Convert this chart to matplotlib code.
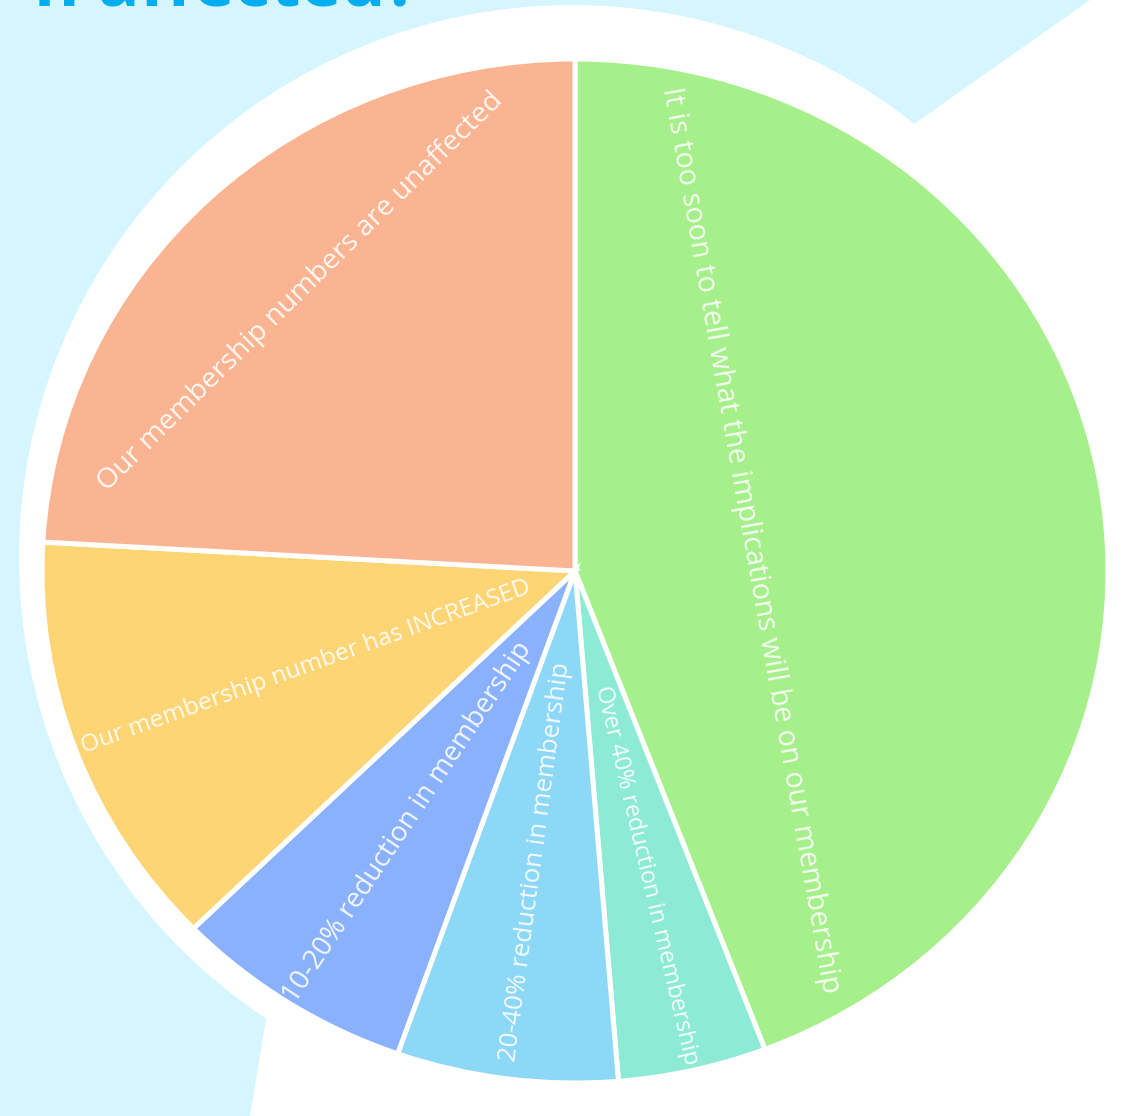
import numpy as np
import matplotlib.pyplot as plt
from matplotlib.patches import Circle, Polygon

# Survey answers, clockwise from the top of the pie
answers = [
    'It is too soon to tell what the implications will be on our membership',
    'Over 40% reduction in membership',
    '20-40% reduction in membership',
    '10-20% reduction in membership',
    'Our membership number has INCREASED',
    'Our membership numbers are unaffected',
]
shares = [44.2, 4.5, 6.7, 7.3, 13.2, 24.1]
colors = ['#a5f08a', '#8debd5', '#8dd7f7', '#8ab1fd', '#fdd575', '#fab491']

# label layout: orientation, distance from centre (fraction of radius), size
label_mode = ['tangent', 'radial', 'radial', 'radial', 'radial', 'tangent']
label_r = [0.334, 0.23, 0.18, 0.17, 0.09, 0.75]
label_size = [20.7, 16.9, 18.6, 19.8, 17.6, 20.5]

W, H = 1132, 1116
fig = plt.figure(figsize=(W / 100, H / 100), dpi=100, facecolor='#d5f6fe')

# background shapes in pixel units
bg = fig.add_axes([0, 0, 1, 1])
bg.set_xlim(0, W)
bg.set_ylim(H, 0)
bg.axis('off')
bg.add_patch(Polygon([(1090, 0), (W, 0), (W, H), (250, H), (265, 1025),
                      (335, 600), (700, 275)], closed=True,
                     facecolor='white', edgecolor='none'))
bg.add_patch(Circle((572, 558), 553, facecolor='white', edgecolor='none'))
bg.text(418, 6, 'n affected?', color='#00aeef', fontsize=50,
        fontweight='bold', family='Open Sans', ha='right', va='baseline')

# pie axes, stretched slightly wider than tall
cx, cy, rx, ry = 575, 571, 533, 512
ax = fig.add_axes([(cx - rx) / W, (H - cy - ry) / H, 2 * rx / W, 2 * ry / H])
wedges, _ = ax.pie(shares, colors=colors, startangle=90, counterclock=False,
                   radius=1,
                   wedgeprops=dict(edgecolor='white', linewidth=3.6))
ax.set_xlim(-1, 1)
ax.set_ylim(-1, 1)
ax.set_aspect('auto')
ax.axis('off')
for w in wedges:
    w.set_clip_on(False)

edges = np.concatenate([[0], np.cumsum(shares)]) / sum(shares) * 360
for i, text in enumerate(answers):
    mid = np.radians((edges[i] + edges[i + 1]) / 2)
    ux, uy = np.sin(mid), np.cos(mid)
    r = label_r[i]
    p0 = ax.transData.transform((r * ux, r * uy))
    p1 = ax.transData.transform(((r + 0.1) * ux, (r + 0.1) * uy))
    phi = np.degrees(np.arctan2(p1[1] - p0[1], p1[0] - p0[0]))
    if label_mode[i] == 'radial':
        if np.cos(np.radians(phi)) >= 0:
            rot, ha = phi, 'left'
        else:
            rot, ha = phi + 180, 'right'
    else:
        rot, ha = phi - 90, 'center'
        if rot <= -90:
            rot += 180
    t = ax.text(r * ux, r * uy, text, rotation=rot, rotation_mode='anchor',
                ha=ha, va='center', color='white', alpha=0.9,
                fontsize=label_size[i], family='Open Sans')
    t.set_clip_path(wedges[i])

fig.savefig('out.png', dpi=100, facecolor=fig.get_facecolor())
